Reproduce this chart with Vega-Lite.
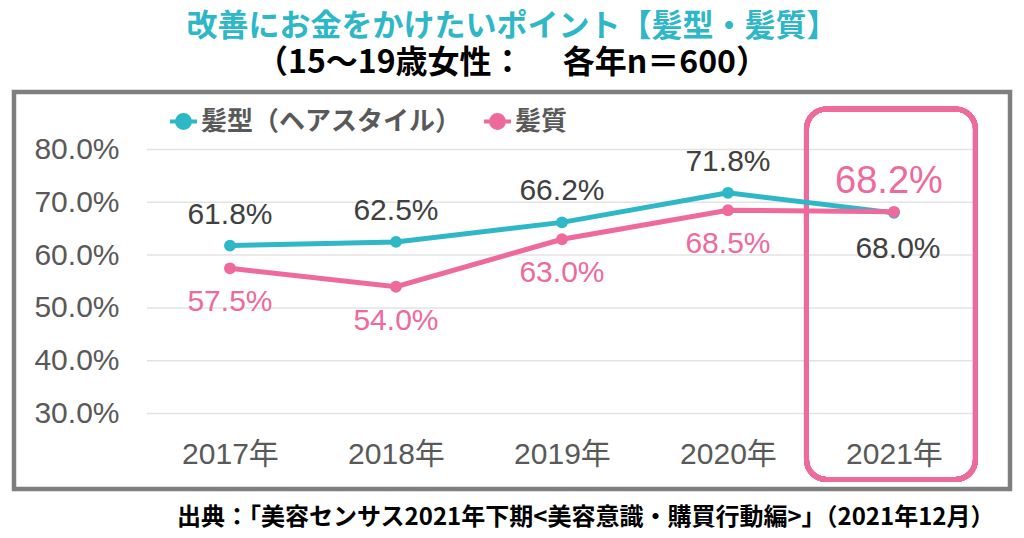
{
  "$schema": "https://vega.github.io/schema/vega-lite/v6.json",
  "width": 996,
  "height": 397,
  "autosize": {"type": "none"},
  "padding": {"left": 14, "top": 92, "right": 14, "bottom": 49},
  "background": "white",
  "config": {
    "view": {"stroke": "#7f7f7f", "strokeWidth": 4.5},
    "font": "Liberation Sans, Noto Sans CJK JP"
  },
  "title": {
    "text": "改善にお金をかけたいポイント【髪型・髪質】",
    "subtitle": "（15～19歳女性：　 各年n＝600）",
    "anchor": "middle",
    "font": "Noto Sans CJK JP",
    "fontSize": 31,
    "fontWeight": "bold",
    "color": "#2db7c7",
    "subtitleFont": "Noto Sans CJK JP",
    "subtitleFontSize": 32,
    "subtitleFontWeight": "bold",
    "subtitleColor": "#000000",
    "subtitlePadding": 5,
    "offset": 12
  },
  "datasets": {
    "main": [
      {"year": 2017, "series": "髪型（ヘアスタイル）", "value": 0.618},
      {"year": 2018, "series": "髪型（ヘアスタイル）", "value": 0.625},
      {"year": 2019, "series": "髪型（ヘアスタイル）", "value": 0.662},
      {"year": 2020, "series": "髪型（ヘアスタイル）", "value": 0.718},
      {"year": 2021, "series": "髪型（ヘアスタイル）", "value": 0.680},
      {"year": 2017, "series": "髪質", "value": 0.575},
      {"year": 2018, "series": "髪質", "value": 0.540},
      {"year": 2019, "series": "髪質", "value": 0.630},
      {"year": 2020, "series": "髪質", "value": 0.685},
      {"year": 2021, "series": "髪質", "value": 0.682}
    ],
    "grid": [
      {"tick": 0.3}, {"tick": 0.4}, {"tick": 0.5}, {"tick": 0.6}, {"tick": 0.7}, {"tick": 0.8}
    ]
  },
  "data": {"name": "main"},
  "layer": [
    {
      "data": {"name": "grid"},
      "mark": {"type": "rule", "stroke": "#e3e3e3", "strokeWidth": 1.5},
      "encoding": {
        "y": {"field": "tick", "type": "quantitative", "scale": {"domain": [0.157, 0.9089], "nice": false, "zero": false}},
        "x": {"datum": 2016.5, "type": "quantitative"},
        "x2": {"datum": 2021.48}
      }
    },
    {
      "mark": {"type": "rect", "fill": null, "fillOpacity": 0, "stroke": "#ee6a9d", "strokeWidth": 5, "cornerRadius": 20},
      "encoding": {
        "x": {"datum": 2020.473, "type": "quantitative"},
        "x2": {"datum": 2021.491},
        "y": {"datum": 0.8767, "type": "quantitative"},
        "y2": {"datum": 0.175}
      }
    },
    {
      "mark": {"type": "line", "strokeWidth": 5, "point": {"filled": true, "size": 140}},
      "encoding": {
        "x": {
          "field": "year", "type": "quantitative",
          "scale": {"domain": [2015.699, 2021.699], "nice": false, "zero": false},
          "axis": {
            "values": [2017, 2018, 2019, 2020, 2021],
            "labelExpr": "datum.value + '年'",
            "orient": "bottom",
            "offset": -40,
            "domain": false,
            "ticks": false,
            "grid": false,
            "labelFontSize": 30,
            "labelColor": "#595959",
            "labelBaseline": "middle",
            "labelPadding": 5,
            "labelFont": "Liberation Sans, Noto Sans CJK JP",
            "title": "出典：「美容センサス2021年下期<美容意識・購買行動編>」（2021年12月）",
            "titleFont": "Noto Sans CJK JP",
            "titleFontSize": 24,
            "titleFontWeight": "bold",
            "titleColor": "#000000",
            "titleAlign": "right",
            "titleAnchor": "end",
            "titleBaseline": "middle",
            "titleX": 980,
            "titleY": 68
          }
        },
        "y": {
          "field": "value", "type": "quantitative",
          "scale": {"domain": [0.157, 0.9089], "nice": false, "zero": false},
          "axis": {
            "values": [0.3, 0.4, 0.5, 0.6, 0.7, 0.8],
            "format": ".1%",
            "offset": -110,
            "domain": false,
            "ticks": false,
            "grid": false,
            "labelFontSize": 30,
            "labelColor": "#595959",
            "labelBaseline": "middle",
            "labelPadding": 5,
            "title": null
          }
        },
        "color": {
          "field": "series", "type": "nominal",
          "scale": {"domain": ["髪型（ヘアスタイル）", "髪質"], "range": ["#2db7c7", "#ee6a9d"]},
          "legend": {
            "orient": "none",
            "legendX": 154,
            "legendY": 14,
            "direction": "horizontal",
            "title": null,
            "padding": 0,
            "labelFont": "Noto Sans CJK JP",
            "labelFontSize": 26,
            "labelFontWeight": "bold",
            "labelColor": "#595959",
            "labelLimit": 500,
            "labelOffset": 2,
            "columnPadding": 14,
            "symbolType": "M-1,0H1M-0.48,0A0.48,0.48,0,1,0,0.48,0A0.48,0.48,0,1,0,-0.48,0Z",
            "symbolSize": 729,
            "symbolStrokeWidth": 4,
            "symbolOpacity": 1,
            "encode": {
              "symbols": {
                "update": {
                  "fill": {"scale": "color", "field": "value"},
                  "stroke": {"scale": "color", "field": "value"}
                }
              }
            }
          }
        }
      }
    },
    {
      "transform": [{"filter": "datum.series === '髪型（ヘアスタイル）' && datum.year < 2021"}],
      "mark": {"type": "text", "fontSize": 30, "color": "#404040", "baseline": "middle", "dy": -31},
      "encoding": {
        "x": {"field": "year", "type": "quantitative"},
        "y": {"field": "value", "type": "quantitative"},
        "text": {"field": "value", "type": "quantitative", "format": ".1%"}
      }
    },
    {
      "transform": [{"filter": "datum.series === '髪型（ヘアスタイル）' && datum.year === 2021"}],
      "mark": {"type": "text", "fontSize": 30, "color": "#404040", "baseline": "middle", "dy": 36, "dx": 4},
      "encoding": {
        "x": {"field": "year", "type": "quantitative"},
        "y": {"field": "value", "type": "quantitative"},
        "text": {"field": "value", "type": "quantitative", "format": ".1%"}
      }
    },
    {
      "transform": [{"filter": "datum.series === '髪質' && datum.year < 2021"}],
      "mark": {"type": "text", "fontSize": 30, "color": "#ee6a9d", "baseline": "middle", "dy": 34},
      "encoding": {
        "x": {"field": "year", "type": "quantitative"},
        "y": {"field": "value", "type": "quantitative"},
        "text": {"field": "value", "type": "quantitative", "format": ".1%"}
      }
    },
    {
      "transform": [{"filter": "datum.series === '髪質' && datum.year === 2021"}],
      "mark": {"type": "text", "fontSize": 38, "color": "#ee6a9d", "baseline": "middle", "dy": -30, "dx": -5},
      "encoding": {
        "x": {"field": "year", "type": "quantitative"},
        "y": {"field": "value", "type": "quantitative"},
        "text": {"field": "value", "type": "quantitative", "format": ".1%"}
      }
    }
  ]
}
